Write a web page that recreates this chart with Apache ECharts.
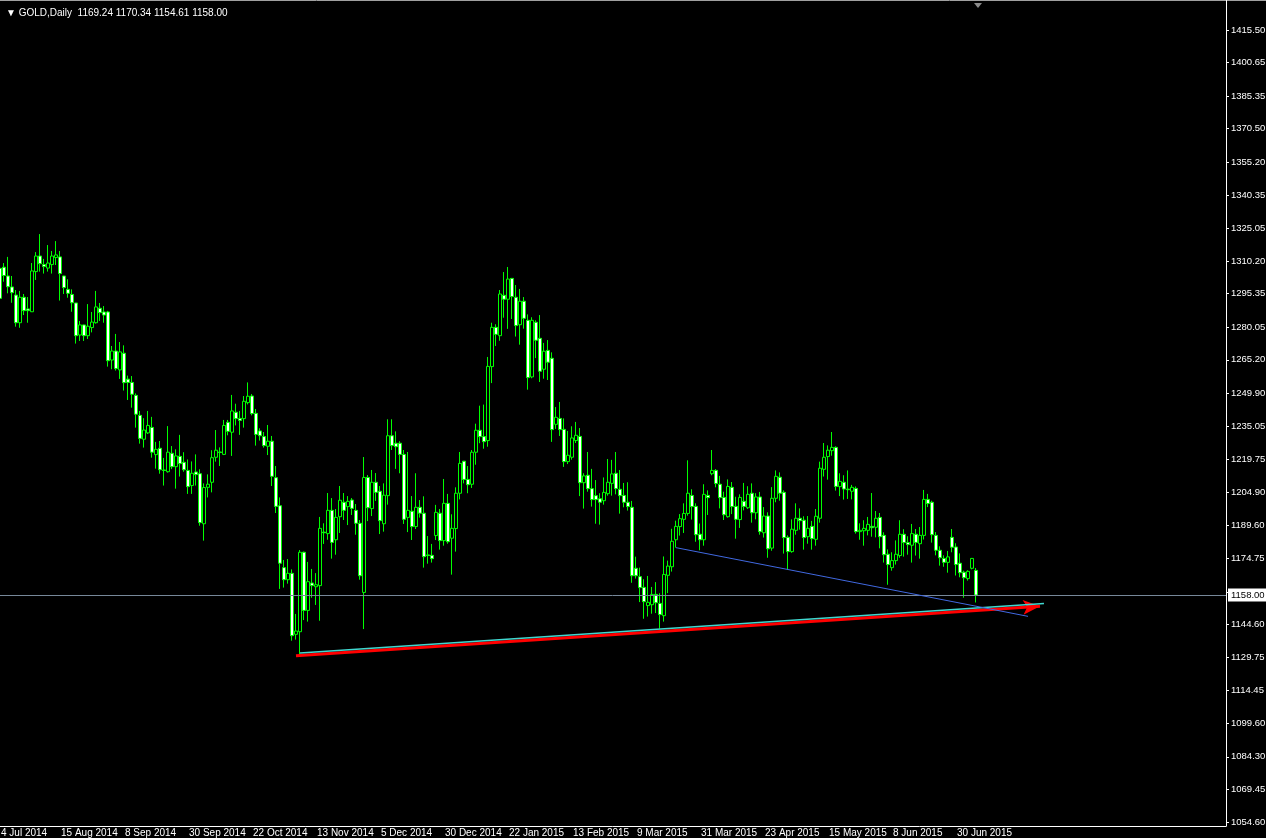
<!DOCTYPE html>
<html>
<head>
<meta charset="utf-8">
<title>GOLD,Daily</title>
<script src="https://cdn.jsdelivr.net/npm/echarts@6/dist/echarts.min.js"></script>
<style>
  html, body { margin: 0; padding: 0; background: #000; }
  #chart { width: 1266px; height: 838px; }
</style>
</head>
<body>
<div id="chart"></div>
<script>
// daily bars, 25 Jul 2014 .. 7 Jul 2015
const dates = [
  '2014.07.25','2014.07.28','2014.07.29','2014.07.30','2014.07.31',
  '2014.08.01','2014.08.04','2014.08.05','2014.08.06','2014.08.07','2014.08.08','2014.08.11','2014.08.12','2014.08.13','2014.08.14','2014.08.15',
  '2014.08.18','2014.08.19','2014.08.20','2014.08.21','2014.08.22','2014.08.25','2014.08.26','2014.08.27','2014.08.28','2014.08.29',
  '2014.09.01','2014.09.02','2014.09.03','2014.09.04','2014.09.05','2014.09.08','2014.09.09','2014.09.10','2014.09.11','2014.09.12',
  '2014.09.15','2014.09.16','2014.09.17','2014.09.18','2014.09.19','2014.09.22','2014.09.23','2014.09.24','2014.09.25','2014.09.26',
  '2014.09.29','2014.09.30',
  '2014.10.01','2014.10.02','2014.10.03','2014.10.06','2014.10.07','2014.10.08','2014.10.09','2014.10.10','2014.10.13','2014.10.14',
  '2014.10.15','2014.10.16','2014.10.17','2014.10.20','2014.10.21','2014.10.22','2014.10.23','2014.10.24','2014.10.27','2014.10.28',
  '2014.10.29','2014.10.30','2014.10.31',
  '2014.11.03','2014.11.04','2014.11.05','2014.11.06','2014.11.07','2014.11.10','2014.11.11','2014.11.12','2014.11.13','2014.11.14',
  '2014.11.17','2014.11.18','2014.11.19','2014.11.20','2014.11.21','2014.11.24','2014.11.25','2014.11.26','2014.11.27','2014.11.28',
  '2014.12.01','2014.12.02','2014.12.03','2014.12.04','2014.12.05','2014.12.08','2014.12.09','2014.12.10','2014.12.11','2014.12.12',
  '2014.12.15','2014.12.16','2014.12.17','2014.12.18','2014.12.19','2014.12.22','2014.12.23','2014.12.24','2014.12.26','2014.12.29',
  '2014.12.30','2014.12.31',
  '2015.01.02','2015.01.05','2015.01.06','2015.01.07','2015.01.08','2015.01.09','2015.01.12','2015.01.13','2015.01.14','2015.01.15',
  '2015.01.16','2015.01.19','2015.01.20','2015.01.21','2015.01.22','2015.01.23','2015.01.26','2015.01.27','2015.01.28','2015.01.29',
  '2015.01.30',
  '2015.02.02','2015.02.03','2015.02.04','2015.02.05','2015.02.06','2015.02.09','2015.02.10','2015.02.11','2015.02.12','2015.02.13',
  '2015.02.16','2015.02.17','2015.02.18','2015.02.19','2015.02.20','2015.02.23','2015.02.24','2015.02.25','2015.02.26','2015.02.27',
  '2015.03.02','2015.03.03','2015.03.04','2015.03.05','2015.03.06','2015.03.09','2015.03.10','2015.03.11','2015.03.12','2015.03.13',
  '2015.03.16','2015.03.17','2015.03.18','2015.03.19','2015.03.20','2015.03.23','2015.03.24','2015.03.25','2015.03.26','2015.03.27',
  '2015.03.30','2015.03.31',
  '2015.04.01','2015.04.02','2015.04.06','2015.04.07','2015.04.08','2015.04.09','2015.04.10','2015.04.13','2015.04.14','2015.04.15',
  '2015.04.16','2015.04.17','2015.04.20','2015.04.21','2015.04.22','2015.04.23','2015.04.24','2015.04.27','2015.04.28','2015.04.29',
  '2015.04.30',
  '2015.05.01','2015.05.04','2015.05.05','2015.05.06','2015.05.07','2015.05.08','2015.05.11','2015.05.12','2015.05.13','2015.05.14',
  '2015.05.15','2015.05.18','2015.05.19','2015.05.20','2015.05.21','2015.05.22','2015.05.25','2015.05.26','2015.05.27','2015.05.28',
  '2015.05.29',
  '2015.06.01','2015.06.02','2015.06.03','2015.06.04','2015.06.05','2015.06.08','2015.06.09','2015.06.10','2015.06.11','2015.06.12',
  '2015.06.15','2015.06.16','2015.06.17','2015.06.18','2015.06.19','2015.06.22','2015.06.23','2015.06.24','2015.06.25','2015.06.26',
  '2015.06.29','2015.06.30',
  '2015.07.01','2015.07.02','2015.07.03','2015.07.06','2015.07.07'
];

const open = [
  1306.9,1307.4,1303.4,1298.4,1294.7,1282.1,1293.7,1288.4,1287.1,1305.4,
  1312.5,1308.6,1307.0,1308.6,1311.8,1312.1,1303.4,1297.3,1295.0,1291.1,
  1276.5,1281.1,1276.2,1279.9,1282.1,1288.7,1287.0,1287.0,1265.1,1269.2,
  1260.6,1268.2,1256.4,1254.9,1249.0,1239.9,1229.0,1231.9,1234.4,1222.0,
  1224.9,1215.0,1214.2,1222.6,1216.5,1221.2,1218.5,1214.8,1207.9,1214.1,
  1213.3,1190.5,1207.1,1209.4,1220.8,1223.2,1222.1,1236.7,1232.2,1241.3,
  1238.5,1238.4,1245.7,1248.7,1240.8,1232.8,1230.2,1225.8,1228.1,1211.5,
  1198.7,1170.5,1165.0,1167.9,1140.1,1141.3,1177.5,1151.0,1163.5,1161.8,
  1162.3,1186.7,1186.0,1196.6,1183.2,1193.7,1200.3,1198.3,1201.3,1196.6,
  1190.7,1159.2,1211.6,1197.4,1209.4,1205.3,1190.5,1203.3,1230.6,1227.2,
  1227.2,1222.1,1193.4,1196.2,1189.2,1198.0,1195.3,1176.3,1176.1,1185.1,
  1195.3,1182.8,1199.8,1183.9,1188.3,1204.4,1219.0,1210.7,1208.5,1223.1,
  1233.1,1230.2,1228.4,1262.1,1280.0,1276.2,1294.6,1292.8,1302.3,1293.7,
  1281.2,1291.9,1283.2,1257.4,1282.3,1275.0,1260.9,1269.5,1265.9,1235.8,
  1238.5,1233.5,1218.8,1220.8,1228.4,1230.3,1209.2,1212.6,1206.5,1203.3,
  1201.9,1201.0,1204.2,1208.9,1213.5,1206.2,1203.4,1200.3,1198.0,1170.2,
  1166.4,1161.5,1153.2,1153.6,1158.3,1154.2,1148.6,1167.0,1170.9,1183.2,
  1189.2,1192.5,1195.2,1203.4,1198.4,1185.7,1183.2,1203.4,1213.3,1214.8,
  1208.5,1202.5,1193.7,1207.1,1198.4,1192.4,1200.7,1197.8,1204.4,1195.5,
  1202.7,1186.4,1194.0,1179.4,1202.1,1211.7,1204.8,1184.3,1177.8,1187.5,
  1193.0,1192.1,1184.6,1189.3,1183.4,1193.0,1215.3,1221.1,1223.8,1225.3,
  1207.4,1209.4,1206.3,1205.3,1206.6,1186.9,1187.3,1187.5,1189.3,1188.9,
  1193.4,1185.2,1176.6,1170.5,1173.7,1176.0,1185.7,1181.9,1180.7,1185.7,
  1181.4,1185.2,1201.6,1200.3,1185.2,1178.4,1174.7,1172.9,1184.3,1179.9,
  1172.5,1168.4,1165.5,1170.2,1169.24
];
const high = [
  1308.4,1309.3,1312.1,1303.4,1297.0,1296.6,1295.2,1293.8,1309.3,1314.3,
  1322.5,1311.2,1317.5,1314.8,1319.3,1314.8,1303.5,1301.9,1297.3,1291.1,
  1282.9,1281.2,1290.6,1287.0,1296.6,1291.1,1289.7,1287.5,1271.5,1277.0,
  1273.3,1271.8,1258.0,1257.8,1249.9,1241.9,1238.6,1241.9,1239.2,1227.8,
  1228.2,1220.5,1235.0,1225.9,1224.4,1231.0,1223.1,1219.8,1218.9,1222.1,
  1215.3,1208.9,1213.0,1224.0,1233.2,1225.3,1237.8,1237.8,1249.2,1245.2,
  1241.9,1248.7,1254.9,1249.6,1242.8,1234.0,1232.3,1235.5,1230.5,1216.8,
  1202.5,1174.0,1174.4,1169.7,1149.4,1178.5,1177.8,1173.1,1169.9,1168.0,
  1193.6,1190.7,1204.5,1202.2,1197.2,1207.7,1204.5,1203.1,1202.2,1199.5,
  1192.2,1220.9,1212.7,1215.0,1213.6,1207.7,1208.9,1238.1,1238.1,1232.6,
  1228.1,1224.1,1223.2,1203.1,1213.5,1201.3,1203.0,1184.9,1181.3,1199.1,
  1197.2,1210.9,1204.1,1194.8,1207.1,1223.2,1219.1,1216.8,1224.1,1236.1,
  1244.3,1244.8,1266.5,1282.1,1281.4,1297.0,1305.2,1307.5,1302.5,1299.3,
  1297.5,1293.8,1285.9,1284.6,1283.2,1285.6,1272.9,1274.2,1268.6,1243.7,
  1246.0,1238.5,1232.8,1234.9,1236.9,1234.1,1213.5,1223.2,1215.5,1210.4,
  1204.4,1211.6,1220.0,1219.6,1223.2,1215.0,1209.1,1209.4,1200.9,1175.5,
  1170.5,1165.2,1166.7,1161.7,1163.9,1158.8,1175.6,1173.7,1188.2,1191.9,
  1194.9,1199.8,1219.4,1206.2,1199.8,1190.6,1208.5,1205.7,1224.1,1215.4,
  1212.3,1205.1,1210.7,1209.5,1202.8,1203.9,1209.1,1207.6,1208.9,1204.4,
  1205.0,1198.1,1195.7,1207.2,1214.8,1213.9,1205.7,1185.2,1192.5,1199.8,
  1197.5,1193.9,1194.0,1191.8,1197.2,1218.8,1227.3,1226.2,1232.3,1225.8,
  1213.5,1212.6,1214.8,1208.2,1207.5,1190.7,1192.1,1193.6,1204.5,1196.3,
  1195.4,1186.6,1178.8,1177.5,1182.9,1192.1,1188.0,1184.8,1190.4,1188.1,
  1189.0,1205.9,1204.1,1201.0,1186.7,1180.2,1176.1,1178.1,1188.1,1181.6,
  1177.0,1169.1,1169.3,1174.9,1170.34
];
const low = [
  1290.2,1300.8,1295.5,1291.2,1280.3,1279.8,1285.6,1282.1,1287.0,1301.6,
  1305.4,1304.5,1305.4,1304.5,1308.4,1292.2,1295.2,1293.5,1287.1,1272.6,
  1273.8,1273.8,1274.7,1277.7,1281.7,1282.9,1282.1,1262.1,1260.9,1260.3,
  1256.5,1251.2,1246.9,1243.4,1234.3,1227.0,1225.2,1231.4,1220.6,1215.6,
  1213.3,1207.9,1213.8,1215.4,1206.5,1212.0,1214.2,1204.1,1204.1,1207.9,
  1189.6,1182.8,1202.5,1204.8,1218.8,1216.8,1221.8,1230.8,1221.4,1235.3,
  1231.0,1234.3,1244.9,1239.9,1226.1,1228.4,1225.2,1221.8,1207.7,1195.4,
  1160.8,1161.4,1163.2,1137.2,1137.7,1131.0,1146.6,1145.9,1156.8,1153.5,
  1146.3,1181.3,1183.2,1174.6,1176.4,1186.3,1192.2,1189.9,1194.5,1185.5,
  1165.0,1142.5,1191.7,1194.0,1200.9,1185.8,1186.9,1199.2,1224.1,1215.5,
  1213.5,1190.4,1186.7,1183.1,1188.1,1193.3,1170.5,1172.3,1172.8,1183.1,
  1178.7,1180.5,1181.4,1167.3,1177.8,1201.6,1208.9,1204.4,1206.8,1217.4,
  1227.2,1224.7,1225.6,1254.6,1271.5,1273.9,1284.4,1279.3,1283.8,1275.8,
  1272.1,1279.4,1251.6,1256.8,1266.0,1255.1,1256.6,1256.0,1227.8,1233.7,
  1230.5,1216.4,1217.7,1219.7,1227.3,1203.1,1197.4,1205.1,1198.3,1190.5,
  1190.1,1199.2,1203.3,1203.3,1203.9,1195.1,1198.0,1196.5,1163.6,1165.5,
  1154.8,1147.2,1148.2,1149.5,1149.8,1142.7,1145.9,1158.9,1168.7,1179.6,
  1185.1,1186.3,1194.2,1192.4,1182.3,1178.4,1180.5,1194.5,1212.6,1207.1,
  1197.5,1192.2,1193.3,1194.9,1183.7,1188.6,1196.6,1197.2,1191.0,1192.5,
  1185.5,1184.2,1175.0,1178.2,1200.3,1201.0,1176.9,1169.6,1177.3,1185.5,
  1187.8,1178.7,1181.4,1178.7,1180.5,1191.0,1212.0,1210.6,1221.5,1205.6,
  1203.1,1201.5,1201.8,1201.6,1186.0,1183.2,1180.5,1185.2,1184.6,1184.3,
  1179.3,1172.8,1162.7,1169.1,1171.9,1175.0,1175.5,1176.4,1172.8,1176.0,
  1174.6,1183.3,1198.1,1181.9,1176.1,1171.4,1170.9,1168.2,1177.5,1166.9,
  1166.1,1156.8,1164.6,1169.7,1154.61
];
const close = [
  1293.2,1303.6,1298.5,1295.8,1282.1,1293.7,1287.6,1287.6,1305.7,1312.5,
  1309.0,1307.7,1309.3,1312.5,1313.0,1304.5,1298.1,1295.5,1291.2,1276.2,
  1281.1,1276.2,1280.5,1282.4,1289.3,1286.7,1285.6,1264.8,1269.2,1261.2,
  1268.8,1254.8,1254.9,1249.5,1240.4,1229.4,1233.2,1235.3,1223.1,1224.4,
  1215.1,1214.8,1223.1,1216.5,1221.4,1217.9,1215.1,1207.4,1213.5,1212.9,
  1191.0,1207.0,1208.5,1220.6,1224.0,1223.0,1235.3,1232.6,1241.9,1238.4,
  1237.6,1246.3,1248.6,1240.7,1231.2,1230.6,1226.1,1228.1,1212.1,1198.4,
  1172.5,1165.0,1167.9,1139.5,1141.6,1177.5,1151.0,1164.1,1162.3,1162.7,
  1188.4,1186.4,1196.6,1182.0,1193.4,1201.2,1196.6,1200.7,1197.5,1190.7,
  1166.8,1211.6,1197.8,1209.4,1204.8,1191.9,1203.5,1230.6,1226.1,1225.6,
  1222.1,1192.5,1196.6,1189.2,1198.0,1195.3,1175.5,1176.0,1174.6,1195.7,
  1182.8,1199.8,1182.3,1188.4,1204.4,1218.0,1210.7,1208.3,1223.1,1233.1,
  1230.2,1227.9,1262.2,1280.0,1276.8,1295.2,1292.8,1302.0,1294.0,1280.8,
  1291.9,1284.1,1257.1,1283.2,1274.1,1260.0,1269.1,1264.1,1233.4,1239.0,
  1233.4,1218.8,1221.7,1229.6,1230.8,1209.2,1212.3,1206.5,1201.5,1201.5,
  1200.3,1204.8,1209.4,1213.2,1206.5,1203.3,1200.3,1198.3,1166.8,1166.8,
  1161.4,1155.0,1154.7,1158.3,1154.5,1149.1,1167.4,1171.2,1182.5,1189.3,
  1192.8,1195.2,1204.4,1198.3,1185.5,1183.2,1203.9,1202.4,1214.8,1208.8,
  1202.4,1194.6,1207.5,1198.3,1192.5,1202.5,1198.4,1203.9,1195.5,1202.7,
  1186.9,1194.0,1179.1,1202.1,1212.1,1204.4,1184.2,1177.8,1188.0,1193.0,
  1191.9,1184.2,1188.4,1183.7,1193.9,1215.8,1220.8,1224.0,1225.3,1207.5,
  1209.8,1206.3,1206.0,1207.1,1186.9,1187.5,1188.4,1190.2,1188.7,1193.0,
  1184.6,1176.4,1171.9,1173.7,1176.6,1185.7,1181.9,1181.0,1186.0,1182.0,
  1185.2,1201.6,1199.7,1185.5,1178.4,1175.0,1172.9,1175.4,1179.8,1171.9,
  1168.2,1165.9,1168.8,1174.7,1158.00
];

// time scale labels as printed on the chart
const tickDates = ['2014.07.25','2014.08.15','2014.09.08','2014.09.30','2014.10.22','2014.11.13','2014.12.05','2014.12.30',
  '2015.01.22','2015.02.13','2015.03.09','2015.03.31','2015.04.23','2015.05.15','2015.06.08','2015.06.30'];
const tickTexts = ['4 Jul 2014','15 Aug 2014','8 Sep 2014','30 Sep 2014','22 Oct 2014','13 Nov 2014','5 Dec 2014','30 Dec 2014',
  '22 Jan 2015','13 Feb 2015','9 Mar 2015','31 Mar 2015','23 Apr 2015','15 May 2015','8 Jun 2015','30 Jun 2015'];

// price scale labels
const priceTicks = [1415.50,1400.65,1385.35,1370.50,1355.20,1340.35,1325.05,1310.20,1295.35,1280.05,1265.20,1249.90,
  1235.05,1219.75,1204.90,1189.60,1174.75,1159.45,1144.60,1129.75,1114.45,1099.60,1084.30,1069.45,1054.60];

// trend lines drawn on the chart: [bar index, price]
const redTrend = [[74, 1130.3], [260, 1152.9]];
const cyanTrend = [[75, 1131.6], [261, 1154.2]];
const blueTrend = [[169, 1179.6], [257, 1148.3]];
const bidPrice = 1158.00;

// empty slots to the right of the last bar (chart shift)
const shiftBars = 62;
const categories = dates.concat(new Array(shiftBars).fill(''));

const last = dates.length - 1;
const header = '\u25BC GOLD,Daily  ' +
  [open[last], high[last], low[last], close[last]].map(v => v.toFixed(2)).join(' ');

const isTick = (idx, value) => tickDates.indexOf(value) >= 0;

const uiFont = 'Liberation Sans';

const chart = echarts.init(document.getElementById('chart'));

chart.setOption({
  backgroundColor: '#000000',
  animation: false,
  textStyle: { fontFamily: uiFont },
  title: {
    text: header,
    left: 1,
    top: 3,
    textStyle: { color: '#ffffff', fontSize: 10, fontWeight: 'normal', fontFamily: uiFont }
  },
  grid: { left: -2, right: 40, top: 0, bottom: 12, containLabel: false, outerBoundsMode: 'none' },
  xAxis: {
    type: 'category',
    data: categories,
    boundaryGap: true,
    axisLine: { lineStyle: { color: '#ffffff', width: 1 } },
    axisTick: { alignWithLabel: true, length: 4, interval: isTick, lineStyle: { color: '#ffffff' } },
    axisLabel: {
      interval: isTick,
      formatter: v => tickTexts[tickDates.indexOf(v)],
      color: '#ffffff',
      fontSize: 10,
      fontFamily: uiFont,
      align: 'left',
      margin: 2,
      padding: [0, 0, 0, 1]
    },
    splitLine: { show: false }
  },
  yAxis: {
    type: 'value',
    position: 'right',
    min: 1052.76,
    max: 1429.17,
    axisLine: { show: true, lineStyle: { color: '#ffffff' } },
    axisTick: { show: true, length: 3, customValues: priceTicks, lineStyle: { color: '#ffffff' } },
    axisLabel: {
      customValues: priceTicks,
      formatter: v => v.toFixed(2),
      color: '#ffffff',
      fontSize: 9.5,
      fontFamily: uiFont,
      margin: 5
    },
    splitLine: { show: false }
  },
  graphic: [
    { type: 'line', shape: { x1: 0, y1: 0.5, x2: 1266, y2: 0.5 }, style: { stroke: '#a0a0a0', lineWidth: 1 } },
    { type: 'polygon', shape: { points: [[974, 3], [982, 3], [978, 8]] }, style: { fill: '#8a8a8a' } }
  ],
  series: [{
    type: 'candlestick',
    data: open.map((o, i) => [o, close[i], low[i], high[i]]),
    barWidth: 3,
    itemStyle: {
      color: '#000000',
      color0: '#ffffff',
      borderColor: '#00ff00',
      borderColor0: '#00ff00',
      borderWidth: 1
    },
    markLine: {
      silent: true,
      symbol: 'none',
      animation: false,
      label: { show: false },
      data: [
        {
          yAxis: bidPrice,
          lineStyle: { color: '#778899', width: 1, type: 'solid' },
          label: {
            show: true,
            position: 'end',
            formatter: bidPrice.toFixed(2),
            color: '#000000',
            backgroundColor: '#ffffff',
            fontFamily: uiFont,
            padding: [2, 2, 1, 3],
            distance: 2,
            fontSize: 9.5
          }
        },
        [
          { coord: redTrend[0], lineStyle: { color: '#ff0000', width: 3, type: 'solid' } },
          { coord: redTrend[1], symbol: 'arrow', symbolSize: [11, 17] }
        ],
        [
          { coord: cyanTrend[0], lineStyle: { color: '#40d8d0', width: 1.5, type: 'solid' } },
          { coord: cyanTrend[1] }
        ],
        [
          { coord: blueTrend[0], lineStyle: { color: '#4169e1', width: 1, type: 'solid' } },
          { coord: blueTrend[1] }
        ]
      ]
    }
  }]
});
</script>
</body>
</html>
